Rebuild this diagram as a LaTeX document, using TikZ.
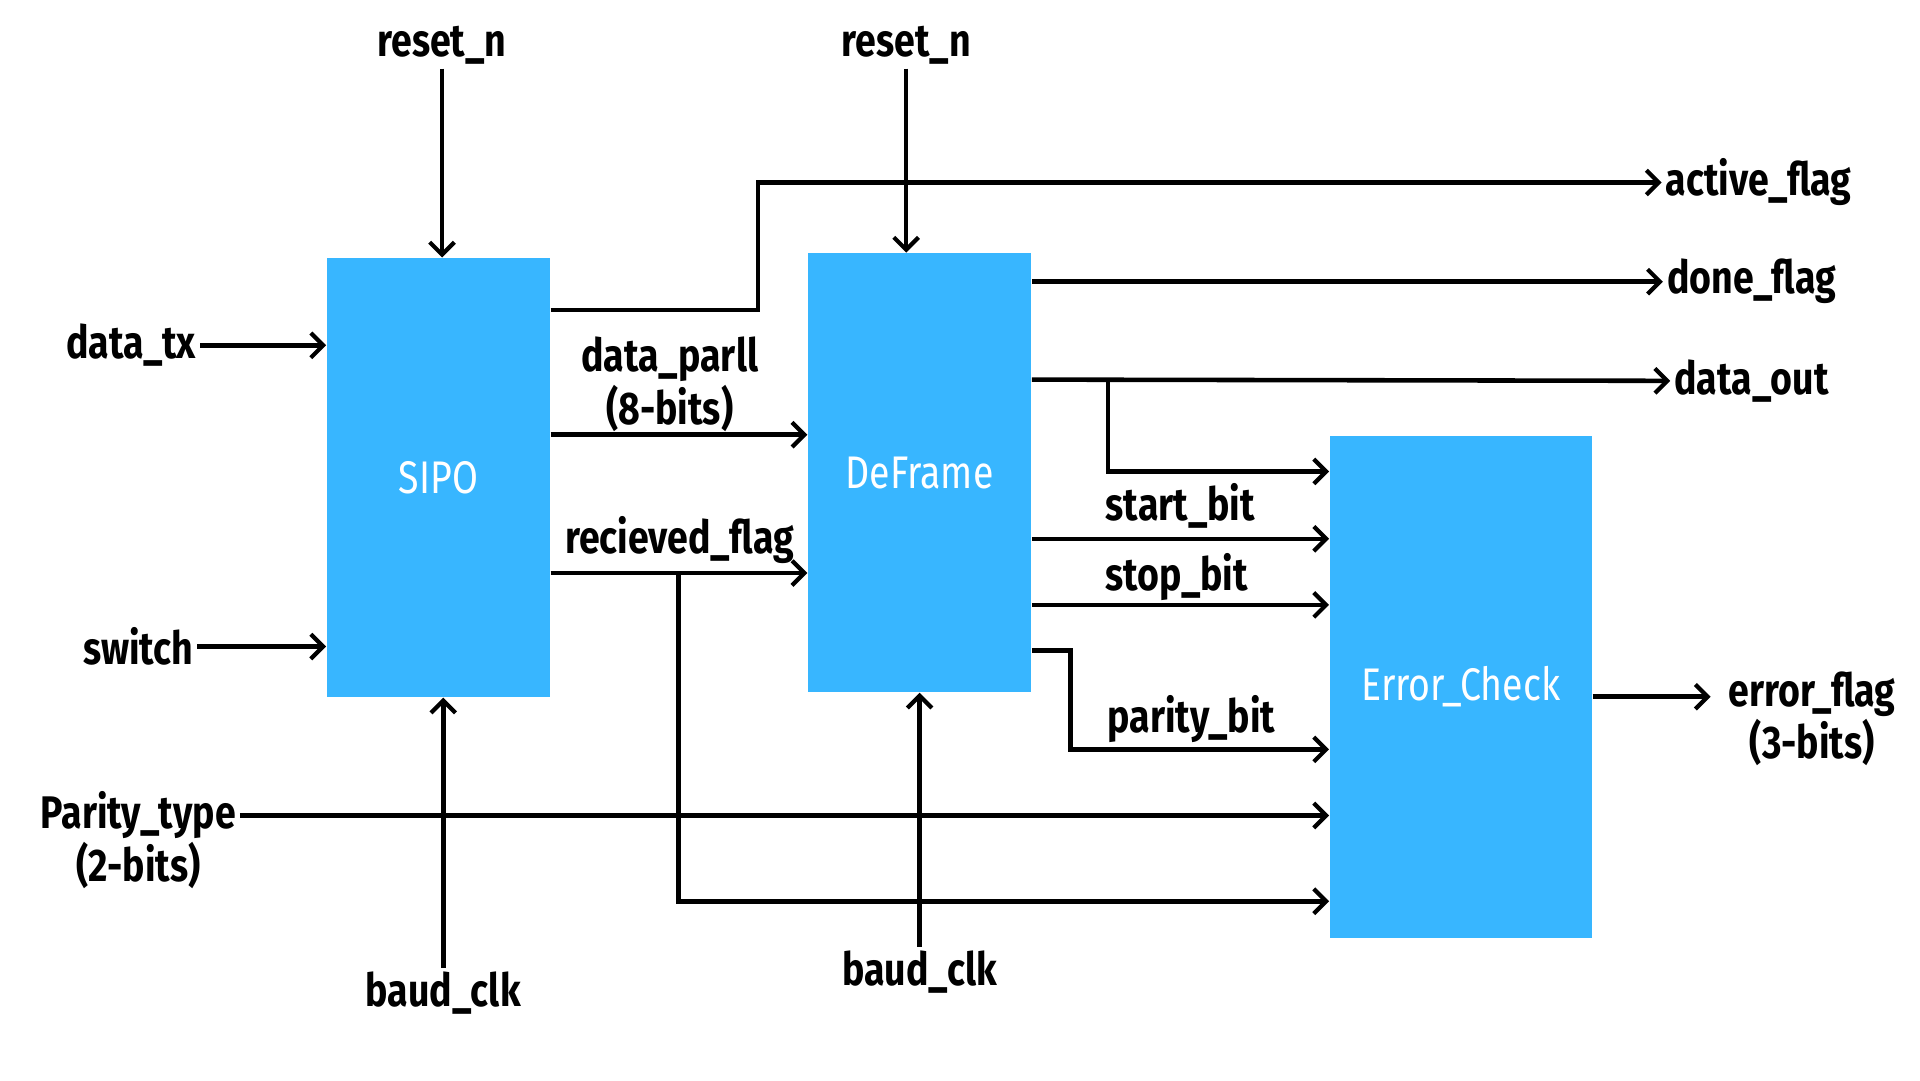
\documentclass[tikz,border=0pt]{standalone}
\usepackage{fontspec}
\setmainfont{Fira Sans}[FakeStretch=0.82]
\usetikzlibrary{arrows.meta}
\definecolor{blockblue}{HTML}{38B6FF}

\begin{document}
\begin{tikzpicture}[x=0.012245cm, y=-0.012245cm,
    font=\fontsize{13}{14}\selectfont,
    blk/.style={fill=blockblue, draw=none, text=white, minimum width=2.229cm, minimum height=4.384cm},
    lbl/.style={font=\fontsize{13}{14}\selectfont\bfseries, inner sep=1pt, align=center},
    wire/.style={line width=1.3pt, -{Straight Barb[length=3.5pt,width=7pt,line width=1.2pt]}}]
                \useasboundingbox (0,0) rectangle (1568,882);

                % draw the blocks
                \node[blk] (sipo) at (358,390) {SIPO};
                \node[blk] (dfr) at (751,386) {DeFrame};
                \node[blk, minimum width=2.620cm, minimum height=5.020cm] (err) at (1193,561) {Error\_Check};

                % inputs
                \node[lbl] (rst1) at (361,37) {reset\_n};
                \node[lbl] (rst2) at (740,37) {reset\_n};
                \node[lbl] (dtx) at (107,282) {data\_tx};
                \node[lbl] (sw) at (113,528) {switch};
                \node[lbl] (ptype) at (113,686) {Parity\_type\\(2-bits)};
                \node[lbl] (bclk1) at (362,811) {baud\_clk};
                \node[lbl] (bclk2) at (751,794) {baud\_clk};

                % outputs
                \node[lbl, anchor=west] (act) at (1357,149) {active\_flag};
                \node[lbl, anchor=west] (done) at (1358,230) {done\_flag};
                \node[lbl, anchor=west] (dout) at (1364,311) {data\_out};
                \node[lbl] (eflag) at (1480,587) {error\_flag\\(3-bits)};

                % wire labels
                \node[lbl] (dpar) at (547,314) {data\_parll\\(8-bits)};
                \node[lbl] (rflag) at (555,441) {recieved\_flag};
                \node[lbl] (sbit) at (964,413) {start\_bit};
                \node[lbl] (pbit) at (961,471) {stop\_bit};
                \node[lbl] (parbit) at (973,587) {parity\_bit};

                % inputs to SIPO
                \draw[wire] (rst1.south) -- (rst1.south |- sipo.north);
                \draw[wire] (dtx.east) -- (sipo.west |- dtx.east);
                \draw[wire] (sw.east) -- (sipo.west |- sw.east);
                \draw[wire] (bclk1.north) -- (bclk1.north |- sipo.south);

                % SIPO to DeFrame
                \draw[wire] (sipo.east |- 0,355) -- (dfr.west |- 0,355);
                \draw[wire] (sipo.east |- 0,468) -- (dfr.west |- 0,468);
                \draw[wire] (sipo.east |- 0,253) -- (619,253) -- (619,149) -- (act.west);

                % inputs to DeFrame
                \draw[wire] (rst2.south) -- (rst2.south |- dfr.north);
                \draw[wire] (bclk2.north) -- (bclk2.north |- dfr.south);

                % DeFrame outputs
                \draw[wire] (dfr.east |- 0,230) -- (done.west);
                \draw[wire] (dfr.east |- 0,310) -- (dout.west);
                \draw[wire] (905,310) -- (905,385) -- (err.west |- 0,385);
                \draw[wire] (dfr.east |- 0,440) -- (err.west |- 0,440);
                \draw[wire] (dfr.east |- 0,494) -- (err.west |- 0,494);
                \draw[wire] (dfr.east |- 0,531) -- (874,531) -- (874,612) -- (err.west |- 0,612);

                % into Error_Check
                \draw[wire] (ptype.east |- 0,666) -- (err.west |- 0,666);
                \draw[wire] (554,468) -- (554,736) -- (err.west |- 0,736);
                \draw[wire] (err.east |- 0,569) -- ([xshift=-4pt]eflag.west |- 0,569);

\end{tikzpicture}
\end{document}
